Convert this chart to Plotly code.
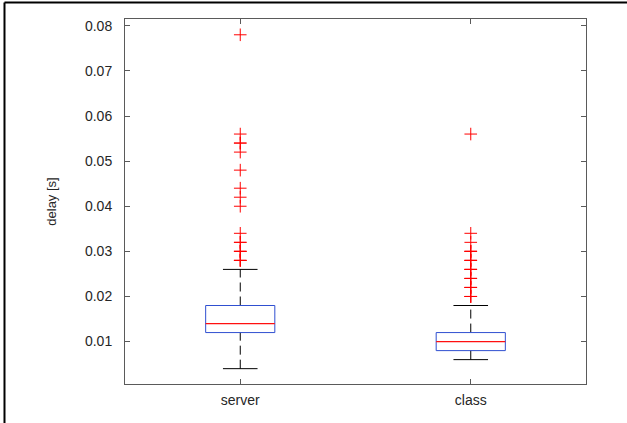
import plotly.graph_objects as go

# ---- data ----
categories = ["server", "class"]
q1_values = [0.012, 0.008]
median_values = [0.014, 0.010]
q3_values = [0.018, 0.012]
lower_whisker = [0.004, 0.006]
upper_whisker = [0.026, 0.018]
server_outliers = [0.078, 0.056, 0.054, 0.054, 0.052, 0.048, 0.044, 0.042, 0.040,
                   0.034, 0.032, 0.032, 0.030, 0.030, 0.030, 0.028, 0.028, 0.028]
class_outliers = [0.056, 0.034, 0.032, 0.030, 0.030, 0.030, 0.028, 0.028, 0.028,
                  0.026, 0.026, 0.026, 0.024, 0.024, 0.024, 0.022, 0.022, 0.022,
                  0.020, 0.020, 0.020]
outliers = [server_outliers, class_outliers]
y_ticks = [0.01, 0.02, 0.03, 0.04, 0.05, 0.06, 0.07, 0.08]
y_label = "delay [s]"

BOX_HALF = 0.15
CAP_HALF = 0.075
AXIS_COLOR = "#5a5a5a"
TEXT_COLOR = "#262626"
FONT = "Liberation Sans, Arial, Helvetica, sans-serif"

fig = go.Figure()

for i, cat in enumerate(categories):
    pos = i + 1
    # upper whisker (dashed)
    fig.add_trace(go.Scatter(
        x=[pos, pos], y=[q3_values[i], upper_whisker[i]], mode="lines",
        line=dict(color="black", width=1, dash="9px,5px"), showlegend=False, hoverinfo="skip"))
    # lower whisker (dashed)
    fig.add_trace(go.Scatter(
        x=[pos, pos], y=[lower_whisker[i], q1_values[i]], mode="lines",
        line=dict(color="black", width=1, dash="9px,5px"), showlegend=False, hoverinfo="skip"))
    # caps
    for w in (upper_whisker[i], lower_whisker[i]):
        fig.add_trace(go.Scatter(
            x=[pos - CAP_HALF, pos + CAP_HALF], y=[w, w], mode="lines",
            line=dict(color="black", width=1), showlegend=False, hoverinfo="skip"))
    # box
    fig.add_trace(go.Scatter(
        x=[pos - BOX_HALF, pos + BOX_HALF, pos + BOX_HALF, pos - BOX_HALF, pos - BOX_HALF],
        y=[q1_values[i], q1_values[i], q3_values[i], q3_values[i], q1_values[i]],
        mode="lines", line=dict(color="#2f4fd0", width=1), showlegend=False, hoverinfo="skip"))
    # median
    fig.add_trace(go.Scatter(
        x=[pos - BOX_HALF, pos + BOX_HALF], y=[median_values[i], median_values[i]],
        mode="lines", line=dict(color="#ff1010", width=1.2), showlegend=False, hoverinfo="skip"))
    # outliers
    fig.add_trace(go.Scatter(
        x=[pos] * len(outliers[i]), y=outliers[i], mode="markers",
        marker=dict(symbol="cross-thin", size=9, line=dict(color="#ff0000", width=1)),
        showlegend=False, name=cat))

fig.update_layout(
    width=627, height=423,
    margin=dict(l=125, r=41, t=19, b=39),
    paper_bgcolor="white", plot_bgcolor="white",
    font=dict(family=FONT, size=14, color=TEXT_COLOR),
    xaxis=dict(
        range=[0.5, 2.5], tickvals=[1, 2], ticktext=categories,
        showgrid=False, zeroline=False, showline=True, linecolor=AXIS_COLOR, linewidth=1,
        mirror="ticks", ticks="inside", ticklen=5, tickcolor=AXIS_COLOR, tickwidth=1,
        tickfont=dict(size=14, color=TEXT_COLOR), ticklabelstandoff=3,
    ),
    yaxis=dict(
        range=[0.0006, 0.0815], tickvals=y_ticks, tickformat=".2f",
        showgrid=False, zeroline=False, showline=True, linecolor=AXIS_COLOR, linewidth=1,
        mirror="ticks", ticks="inside", ticklen=5, tickcolor=AXIS_COLOR, tickwidth=1,
        tickfont=dict(size=14, color=TEXT_COLOR), ticklabelstandoff=9,
        title=dict(text=y_label, font=dict(size=13, color=TEXT_COLOR), standoff=25),
    ),
    shapes=[
        dict(type="line", xref="paper", yref="paper", x0=-0.2614, x1=1.2, y0=1.0452, y1=1.0452,
             line=dict(color="black", width=2)),
        dict(type="line", xref="paper", yref="paper", x0=-0.2614, x1=-0.2614, y0=-0.2, y1=1.0452,
             line=dict(color="black", width=2)),
    ],
)

fig.write_html("out.html", config={"displayModeBar": False, "staticPlot": True})

# remove the default page margin so the figure sits at the window's top-left corner
with open("out.html", "r", encoding="utf-8") as f:
    html = f.read()
html = html.replace("<head>", "<head><style>html,body{margin:0;padding:0;overflow:hidden;}</style>", 1)
with open("out.html", "w", encoding="utf-8") as f:
    f.write(html)
